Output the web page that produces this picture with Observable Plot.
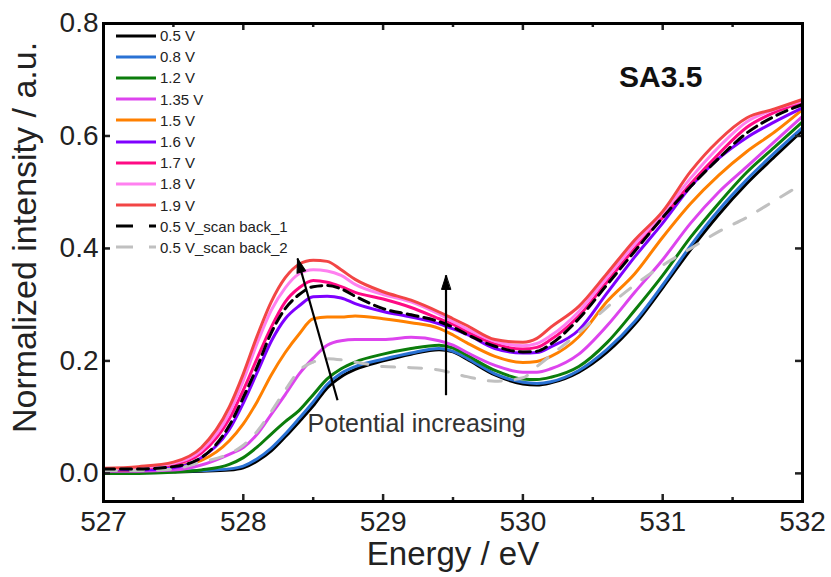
<!DOCTYPE html>
<html><head><meta charset="utf-8">
<script src="https://cdn.jsdelivr.net/npm/d3@7"></script>
<script src="https://cdn.jsdelivr.net/npm/@observablehq/plot@0.6"></script>
<style>
body{margin:0;background:#fff;}
#wrap{position:relative;width:831px;height:577px;font-family:"Liberation Sans",Arial,sans-serif;}
#legend{position:absolute;left:116px;top:25px;}
.row{display:flex;align-items:center;height:21.2px;font-size:15px;color:#222;white-space:nowrap;}
.row svg{margin-right:3px;display:block;}
</style></head><body><div id="wrap"><div id="legend"></div></div>
<script>
// ---- data ----
const energy = [527.0, 527.25, 527.5, 527.7, 527.9, 528.0, 528.1, 528.2, 528.3, 528.4, 528.5, 528.6, 528.7, 528.8, 529.0, 529.2, 529.4, 529.5, 529.6, 529.8, 530.0, 530.1, 530.2, 530.4, 530.6, 530.8, 531.0, 531.2, 531.4, 531.6, 531.8, 532.0];
const seriesNames = ["0.5 V","0.8 V","1.2 V","1.35 V","1.5 V","1.6 V","1.7 V","1.8 V","1.9 V","0.5 V_scan back_1","0.5 V_scan back_2"];
const seriesColors = ["#000000","#2a72d4","#0b7d0b","#dd44ee","#ff8000","#7f00ff","#ff0a84","#ff80f0","#f24545","#000000","#c0c0c0"];
const v0_5  = [0.003,0.003,0.003,0.004,0.006,0.010,0.022,0.040,0.065,0.092,0.120,0.152,0.172,0.185,0.200,0.212,0.220,0.216,0.203,0.175,0.159,0.157,0.161,0.180,0.215,0.265,0.330,0.398,0.460,0.515,0.563,0.610];
const v0_8  = [0.003,0.003,0.004,0.005,0.008,0.013,0.026,0.045,0.070,0.098,0.127,0.158,0.178,0.190,0.203,0.214,0.222,0.217,0.205,0.177,0.162,0.160,0.163,0.183,0.220,0.270,0.335,0.405,0.468,0.522,0.570,0.615];
const v1_2  = [0.000,0.000,0.002,0.006,0.016,0.028,0.047,0.070,0.092,0.112,0.140,0.168,0.186,0.198,0.212,0.222,0.228,0.223,0.210,0.183,0.168,0.167,0.171,0.190,0.232,0.290,0.352,0.420,0.480,0.535,0.580,0.625];
const v1_35 = [0.004,0.004,0.006,0.015,0.034,0.046,0.070,0.105,0.140,0.177,0.205,0.228,0.236,0.238,0.238,0.242,0.236,0.228,0.215,0.192,0.180,0.180,0.186,0.212,0.262,0.322,0.380,0.445,0.500,0.545,0.590,0.635];
const v1_5  = [0.005,0.006,0.012,0.023,0.058,0.088,0.128,0.175,0.215,0.248,0.275,0.278,0.278,0.280,0.275,0.268,0.258,0.246,0.232,0.208,0.197,0.199,0.208,0.243,0.305,0.355,0.420,0.480,0.530,0.572,0.607,0.647];
const v1_6  = [0.006,0.006,0.010,0.028,0.078,0.125,0.180,0.235,0.275,0.298,0.314,0.315,0.312,0.302,0.288,0.278,0.266,0.257,0.247,0.222,0.214,0.215,0.225,0.255,0.320,0.385,0.445,0.510,0.560,0.597,0.625,0.650];
const v1_7  = [0.008,0.009,0.016,0.036,0.097,0.148,0.205,0.260,0.305,0.330,0.343,0.340,0.332,0.322,0.310,0.295,0.275,0.265,0.252,0.230,0.221,0.224,0.238,0.280,0.340,0.400,0.455,0.515,0.568,0.615,0.642,0.660];
const v1_8  = [0.008,0.010,0.018,0.041,0.107,0.165,0.232,0.290,0.330,0.355,0.362,0.360,0.352,0.336,0.318,0.305,0.283,0.270,0.257,0.235,0.227,0.231,0.245,0.288,0.348,0.408,0.462,0.525,0.580,0.625,0.647,0.662];
const v1_9  = [0.009,0.012,0.020,0.046,0.118,0.177,0.245,0.305,0.348,0.372,0.379,0.377,0.362,0.345,0.323,0.308,0.287,0.275,0.263,0.238,0.233,0.240,0.260,0.297,0.355,0.415,0.466,0.537,0.592,0.632,0.648,0.665];
const vBack1 = [0.008,0.008,0.012,0.028,0.085,0.135,0.190,0.250,0.293,0.318,0.332,0.334,0.328,0.315,0.293,0.282,0.270,0.260,0.247,0.226,0.216,0.217,0.230,0.275,0.335,0.395,0.455,0.510,0.560,0.605,0.635,0.656];
const vBack2 = [0.005,0.005,0.008,0.020,0.035,0.050,0.075,0.110,0.148,0.183,0.198,0.204,0.202,0.198,0.190,0.188,0.184,0.178,0.172,0.164,0.170,0.190,0.210,0.250,0.295,0.335,0.370,0.400,0.430,0.455,0.485,0.515];
const seriesValues = [v0_5, v0_8, v1_2, v1_35, v1_5, v1_6, v1_7, v1_8, v1_9, vBack1, vBack2];
const xTicks = [527, 528, 529, 530, 531, 532];
const xMinorTicks = [527.5, 528.5, 529.5, 530.5, 531.5];
const yTicks = [0, 0.2, 0.4, 0.6, 0.8];
const arrowData = [
  {e1: 528.674, v1: 0.130, e2: 528.388, v2: 0.382},
  {e1: 529.450, v1: 0.139, e2: 529.450, v2: 0.352}
];
const noteData = [{label: "Potential increasing", e: 529.24, v: 0.087}];
const sampleLabel = ["SA3.5"];
const xTitle = ["Energy / eV"];
const yTitle = ["Normalized intensity / a.u."];

// ---- build ----
const W = 831, H = 577, mL = 103, mR = 29, mT = 23, mB = 76;
const innerW = W - mL - mR, innerH = H - mT - mB;
const rows = seriesNames.flatMap((s, i) => energy.map((e, j) => ({s, e, v: seriesValues[i][j]})));
const solidRows = rows.filter(d => seriesNames.indexOf(d.s) < 9);
const back1Rows = rows.filter(d => d.s === seriesNames[9]);
const back2Rows = rows.filter(d => d.s === seriesNames[10]);

const headShape = {draw(ctx, l, r) { ctx.moveTo(0, -l); ctx.lineTo(-r, 0); ctx.lineTo(r, 0); ctx.closePath(); }};

function build(rot) {
  return Plot.plot({
    width: W, height: H, marginLeft: mL, marginRight: mR, marginTop: mT, marginBottom: mB,
    style: {fontFamily: "'Liberation Sans', Arial, sans-serif", background: "#fff", color: "#222", overflow: "visible"},
    x: {domain: [527, 532], axis: null},
    y: {domain: [-0.05, 0.8], axis: null},
    color: {domain: seriesNames, range: seriesColors},
    marks: [
      Plot.line(solidRows, {x: "e", y: "v", z: "s", stroke: "s", strokeWidth: 3, curve: "monotone-x"}),
      Plot.line(back2Rows, {x: "e", y: "v", stroke: seriesColors[10], strokeWidth: 3, strokeDasharray: "13,14", curve: "monotone-x"}),
      Plot.line(back1Rows, {x: "e", y: "v", stroke: seriesColors[9], strokeWidth: 3, strokeDasharray: "11,6", curve: "monotone-x"}),
      Plot.link(arrowData, {x1: "e1", y1: "v1", x2: "e2", y2: "v2", stroke: "#000", strokeWidth: 2.2}),
      Plot.vector(arrowData, {x: "e2", y: "v2", length: 14, r: 4.5, anchor: "end", shape: headShape, rotate: (d, i) => rot[i], fill: "#000", stroke: "#000", strokeWidth: 1}),
      Plot.text(noteData, {x: "e", y: "v", text: "label", fontSize: 25, fill: "#333"}),
      Plot.ruleX(xTicks, {insetTop: innerH - 7, strokeWidth: 2.5}),
      Plot.ruleX(xTicks, {insetBottom: innerH - 7, strokeWidth: 2.5}),
      Plot.ruleX(xMinorTicks, {insetTop: innerH - 4, strokeWidth: 2.5}),
      Plot.ruleX(xMinorTicks, {insetBottom: innerH - 4, strokeWidth: 2.5}),
      Plot.ruleY(yTicks, {insetRight: innerW - 7, strokeWidth: 2.5}),
      Plot.ruleY(yTicks, {insetLeft: innerW - 7, strokeWidth: 2.5}),
      Plot.frame({stroke: "#000", strokeWidth: 3}),
      Plot.axisX(xTicks, {tickSize: 0, tickPadding: 10, fontSize: 28, label: null, tickFormat: d => String(d)}),
      Plot.axisY(yTicks, {tickSize: 0, tickPadding: 5, fontSize: 28, label: null, tickFormat: d3.format(".1f")}),
      Plot.text(xTitle, {frameAnchor: "bottom", dy: 63, fontSize: 33, fill: "#222"}),
      Plot.text(yTitle, {frameAnchor: "left", textAnchor: "middle", dx: -78, dy: -25, rotate: -90, fontSize: 34, fill: "#222"}),
      Plot.text(sampleLabel, {frameAnchor: "top-right", dx: -100, dy: 42, textAnchor: "end", fontSize: 30, fontWeight: "bold", fill: "#111"})
    ]
  });
}
let chart = build(arrowData.map(() => 0));
const sx = chart.scale("x"), sy = chart.scale("y");
const rots = arrowData.map(d => {
  const dx = sx.apply(d.e2) - sx.apply(d.e1), dy = sy.apply(d.v2) - sy.apply(d.v1);
  return Math.atan2(dx, -dy) * 180 / Math.PI;
});
chart = build(rots);
const wrap = document.getElementById("wrap");
wrap.insertBefore(chart, wrap.firstChild);

// legend overlay
const legend = document.getElementById("legend");
seriesNames.forEach((name, i) => {
  const dash = i === 9 || i === 10 ? "17,16" : null;
  const row = document.createElement("div");
  row.className = "row";
  row.innerHTML = `<svg width="41" height="6"><line x1="0" x2="40" y1="3" y2="3" stroke="${seriesColors[i]}" stroke-width="3.2" ${dash ? `stroke-dasharray="${dash}"` : ""}/></svg><span>${name}</span>`;
  legend.appendChild(row);
});
</script>
</body></html>
